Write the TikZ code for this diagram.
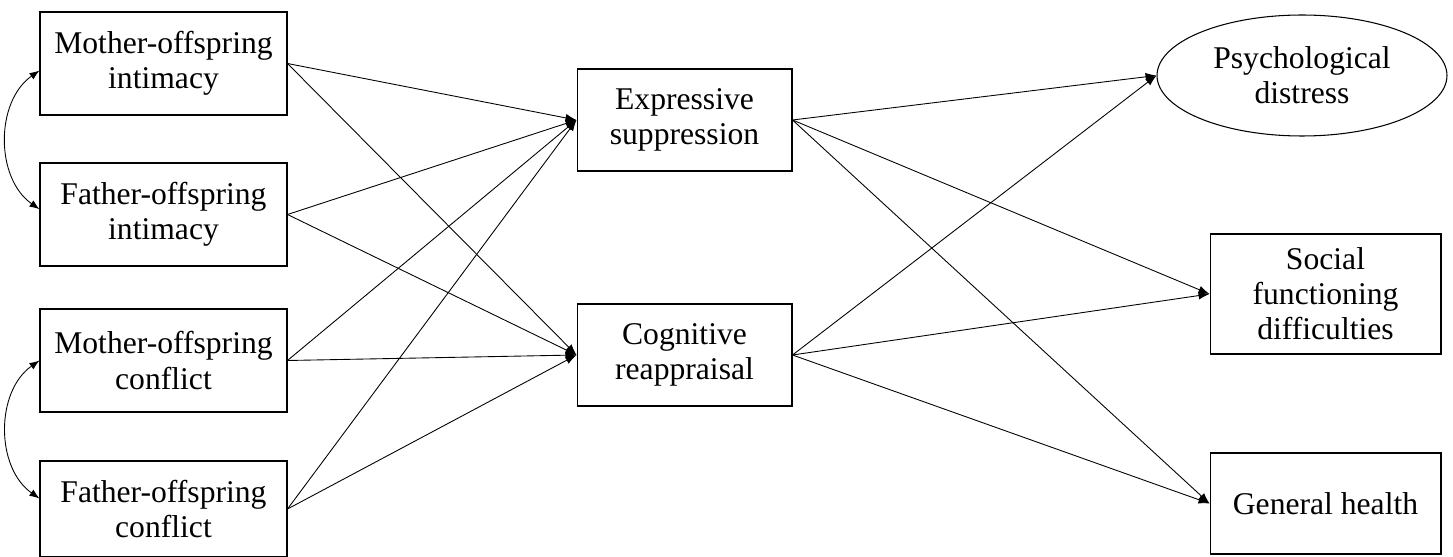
\documentclass[tikz,border=0pt]{standalone}
\usepackage{fontspec}
\setmainfont{Liberation Serif}
\usetikzlibrary{shapes, arrows.meta, positioning}
\usetikzlibrary{shapes.geometric}

\tikzset{
	parentbox/.style={draw, line width=.6pt, minimum width=4.94cm, minimum height=2.06cm, align=center, inner sep=0pt, font=\fontsize{18}{20}\selectfont},
	regbox/.style={draw, line width=.6pt, minimum width=4.3cm, minimum height=2.04cm, align=center, inner sep=0pt, font=\fontsize{18}{20}\selectfont},
	outbox/.style={draw, line width=.6pt, minimum width=4.62cm, align=center, inner sep=0pt, font=\fontsize{18}{20}\selectfont},
	path/.style={line width=.5pt, -{Latex[length=2.2mm, width=1.6mm]}},
	covar/.style={line width=.5pt, {Latex[length=2mm, width=1.5mm]}-{Latex[length=2mm, width=1.5mm]}}
}

\begin{document}
\begin{tikzpicture}[x=0.02cm, y=-0.02cm]
				\useasboundingbox (0,0) rectangle (1453,557);
				% parenting
				\node[parentbox] (mi) at (163.5,63.5) {Mother-offspring\\intimacy};
				\node[parentbox] (fi) at (163.5,214.5) {Father-offspring\\intimacy};
				\node[parentbox] (mc) at (163.5,360.5) {Mother-offspring\\conflict};
				\node[parentbox, minimum height=1.92cm] (fc) at (163.5,509) {Father-offspring\\conflict};
				% emotion regulation
				\node[regbox] (es) at (684.5,120) {Expressive\\suppression};
				\node[regbox] (cr) at (684.5,355) {Cognitive\\reappraisal};
				% outcomes
				\node[draw, ellipse, line width=.6pt, minimum width=5.8cm, minimum height=2.42cm, inner sep=0pt, align=center, font=\fontsize{18}{20}\selectfont] (pd) at (1302,75.5) {Psychological\\distress};
				\node[outbox, minimum height=2.4cm] (sf) at (1325.5,294) {Social\\functioning\\difficulties};
				\node[outbox, minimum height=2.02cm] (gh) at (1325.5,503.5) {General health};
				
				\foreach \src in {mi, fi, mc, fc}{
					\draw[path] (\src.east) -- (es.west);
					\draw[path] (\src.east) -- (cr.west);
				}
				\foreach \src in {es, cr}{
					\draw[path] (\src.east) -- (pd.west);
					\draw[path] (\src.east) -- (sf.west);
					\draw[path] (\src.east) -- (gh.west);
				}
				
				\draw[covar] ([yshift=-4]mi.west) to[out=215, in=145] ([yshift=3]fi.west);
				\draw[covar] (mc.west) to[out=215, in=145] ([yshift=6]fc.west);
			\end{tikzpicture}
\end{document}
